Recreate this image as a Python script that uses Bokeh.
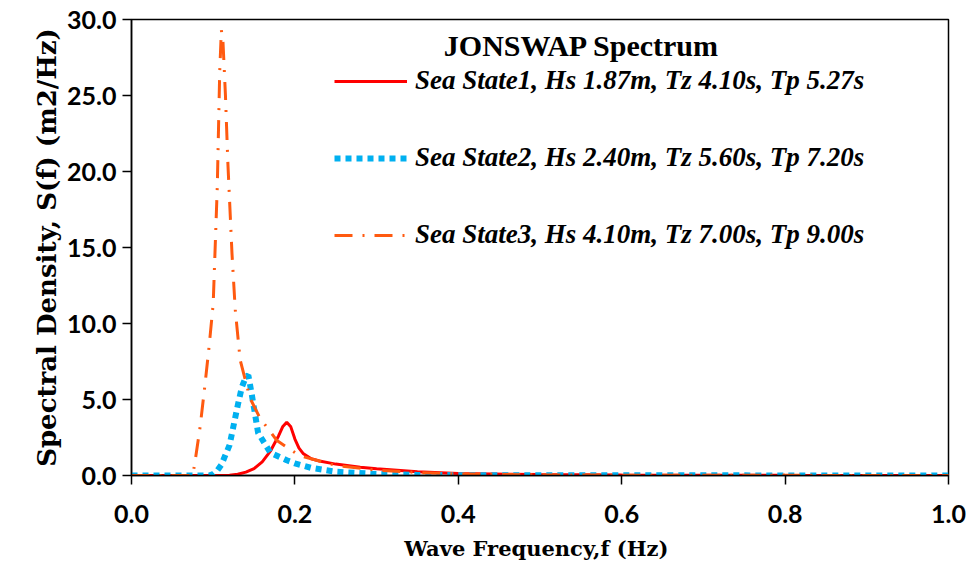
from bokeh.plotting import figure
from bokeh.models import Legend, LegendItem, Label, FixedTicker, Range1d
from bokeh.embed import file_html
from bokeh.resources import INLINE

# Sea State 1 (red, solid)
f1 = [0.0, 0.10, 0.12, 0.13, 0.14, 0.15, 0.16, 0.17, 0.175, 0.18, 0.185, 0.19, 0.195, 0.20, 0.205,
      0.21, 0.22, 0.23, 0.25, 0.28, 0.30, 0.35, 0.40, 0.50, 0.60, 0.80, 1.0]
s1 = [0.0, 0.0, 0.02, 0.08, 0.22, 0.45, 0.9, 1.6, 2.1, 2.6, 3.2, 3.5, 3.2, 2.4, 1.8,
      1.45, 1.1, 0.95, 0.75, 0.55, 0.45, 0.25, 0.13, 0.06, 0.03, 0.01, 0.0]

# Sea State 2 (blue, dotted)
f2 = [0.0, 0.095, 0.10, 0.105, 0.11, 0.12, 0.13, 0.135, 0.14, 0.143, 0.147, 0.155, 0.17,
      0.19, 0.20, 0.22, 0.25, 0.30, 0.35, 0.40, 1.0]
s2 = [0.0, 0.0, 0.1, 0.33, 0.7, 2.0, 4.6, 5.8, 6.5, 6.6, 5.4, 2.8, 1.5,
      1.0, 0.8, 0.5, 0.25, 0.1, 0.04, 0.02, 0.0]

# Sea State 3 (orange, dash-dot)
f3 = [0.0, 0.075, 0.078, 0.084, 0.09, 0.095, 0.10, 0.105, 0.108, 0.11, 0.112, 0.115, 0.118,
      0.123, 0.127, 0.133, 0.145, 0.157, 0.178, 0.206, 0.25, 0.30, 0.35, 0.40, 0.50, 0.60, 1.0]
s3 = [0.0, 0.0, 1.0, 3.2, 6.0, 8.5, 11.3, 19.0, 26.6, 29.3, 28.5, 25.0, 20.5,
      14.6, 10.9, 7.6, 5.1, 3.8, 2.3, 1.3, 0.66, 0.35, 0.2, 0.1, 0.04, 0.02, 0.0]

labels = ["Sea State1, Hs 1.87m, Tz 4.10s, Tp 5.27s",
          "Sea State2, Hs 2.40m, Tz 5.60s, Tp 7.20s",
          "Sea State3, Hs 4.10m, Tz 7.00s, Tp 9.00s"]
x_ticks = [0.0, 0.2, 0.4, 0.6, 0.8, 1.0]
y_ticks = [0, 5, 10, 15, 20, 25, 30]

p = figure(width=970, height=568, output_backend="svg", toolbar_location=None,
           x_range=Range1d(0, 1.0), y_range=Range1d(0, 30),
           min_border_left=131, min_border_right=22, min_border_top=19, min_border_bottom=93)
p.grid.visible = False
p.outline_line_color = "black"
p.outline_line_width = 1.5
p.background_fill_color = "white"
p.border_fill_color = "white"

r1 = p.line(f1, s1, line_color="#FF0000", line_width=3)
r2 = p.line(f2, s2, line_color="#00B0F0", line_width=6, line_dash="6 5")
r3 = p.line(f3, s3, line_color="#FF5A10", line_width=3, line_dash="18 10 2 10")

for ax in (p.xaxis[0], p.yaxis[0]):
    ax.axis_line_color = "black"
    ax.axis_line_width = 1.5
    ax.major_tick_line_color = "black"
    ax.major_tick_line_width = 1.5
    ax.major_tick_in = 0
    ax.major_tick_out = 9
    ax.minor_tick_line_color = None
    ax.major_label_text_font = "Lato"
    ax.major_label_text_font_style = "bold"
    ax.major_label_text_font_size = "25px"
    ax.major_label_text_color = "black"
    ax.axis_label_text_font = "DejaVu Serif"
    ax.axis_label_text_font_style = "bold"
    ax.axis_label_text_color = "black"

p.xaxis.ticker = FixedTicker(ticks=x_ticks)
p.yaxis.ticker = FixedTicker(ticks=y_ticks)
p.xaxis.major_label_overrides = {t: f"{t:.1f}" for t in x_ticks}
p.yaxis.major_label_overrides = {t: f"{t:.1f}" for t in y_ticks}
p.xaxis.major_label_standoff = 20
p.yaxis.major_label_standoff = 6
p.xaxis.axis_label = "Wave  Frequency,f (Hz)"
p.xaxis.axis_label_text_font_size = "21px"
p.xaxis.axis_label_standoff = 10
p.yaxis.axis_label = "Spectral Density, S(f) (m2/Hz)"
p.yaxis.axis_label_text_font_size = "26px"
p.yaxis.axis_label_standoff = 2

legend = Legend(items=[LegendItem(label=labels[0], renderers=[r1]),
                       LegendItem(label=labels[1], renderers=[r2]),
                       LegendItem(label=labels[2], renderers=[r3])],
                location=(203, 225), orientation="vertical")
legend.border_line_color = None
legend.background_fill_alpha = 0
legend.padding = 0
legend.margin = 0
legend.spacing = 46
legend.glyph_width = 73
legend.glyph_height = 26
legend.label_height = 26
legend.label_standoff = 8
legend.label_text_font = "Liberation Serif"
legend.label_text_font_style = "bold italic"
legend.label_text_font_size = "27px"
legend.label_text_color = "black"
p.add_layout(legend)

title = Label(x=454, y=430, x_units="screen", y_units="screen", text="JONSWAP  Spectrum",
              text_font="Liberation Serif", text_font_style="bold", text_font_size="30px",
              text_align="center", text_baseline="middle", text_color="black")
p.add_layout(title)

open("out.html", "w").write(file_html(p, INLINE))
